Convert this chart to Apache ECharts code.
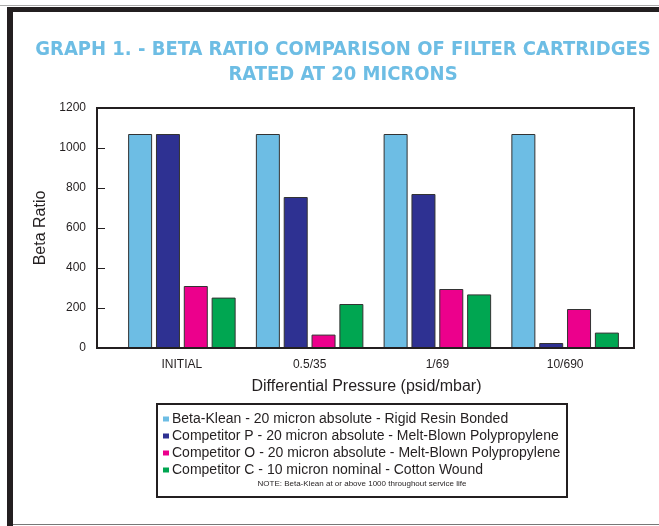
<!DOCTYPE html>
<html><head><meta charset="utf-8">
<script src="https://cdn.jsdelivr.net/npm/echarts@6/dist/echarts.min.js"></script>
<style>html,body{margin:0;padding:0;background:#fff}#c{width:659px;height:526px}</style>
</head><body><div id="c"></div>
<script>
const categories = ['INITIAL', '0.5/35', '1/69', '10/690'];
const seriesNames = [
  'Beta-Klean - 20 micron absolute - Rigid Resin Bonded',
  'Competitor P - 20 micron absolute - Melt-Blown Polypropylene',
  'Competitor O - 20 micron absolute - Melt-Blown Polypropylene',
  'Competitor C - 10 micron nominal - Cotton Wound'
];
const betaKlean = [1070, 1070, 1070, 1070];
const competitorP = [1070, 755, 770, 25];
const competitorO = [310, 67, 295, 195];
const competitorC = [252, 220, 268, 77];
const yTicks = [0, 200, 400, 600, 800, 1000, 1200];
const colors = ['#6DBDE4', '#2E3192', '#EC008C', '#00A651'];

const sans = 'Liberation Sans, Arial, Helvetica, sans-serif';
const narrow = 'Liberation Sans Narrow, DejaVu Sans Condensed, Arial Narrow, sans-serif';
const chart = echarts.init(document.getElementById('c'), null, {renderer: 'canvas'});
const values = [betaKlean, competitorP, competitorO, competitorC];

chart.setOption({
  animation: false,
  title: {
    text: 'GRAPH 1. - BETA RATIO COMPARISON OF FILTER CARTRIDGES\nRATED AT 20 MICRONS',
    left: 338, top: 32, textAlign: 'center',
    textStyle: {color: '#6DBDE4', fontSize: 20, fontWeight: 'bold', fontFamily: narrow, lineHeight: 25}
  },
  legend: {
    orient: 'vertical', left: 158, top: 407, itemWidth: 6, itemHeight: 5, itemGap: 3,
    icon: 'rect', selectedMode: false,
    itemStyle: {borderWidth: 0},
    textStyle: {fontSize: 14, color: '#231F20', fontFamily: sans, padding: [0, 0, 0, -2]},
    data: seriesNames
  },
  grid: {left: 118, right: 30, top: 108, bottom: 178, containLabel: false},
  xAxis: {
    type: 'category', data: categories,
    axisLine: {show: false}, axisTick: {show: false},
    axisLabel: {fontSize: 12, color: '#231F20', fontFamily: sans, margin: 11},
    name: 'Differential Pressure (psid/mbar)', nameLocation: 'middle', nameGap: 31,
    nameTextStyle: {fontSize: 16, color: '#231F20', fontFamily: sans, padding: [0, 14, 0, 0]}
  },
  yAxis: {
    type: 'value', min: 0, max: 1200, interval: 200, offset: 21,
    splitLine: {show: false},
    axisLine: {show: true, lineStyle: {color: '#231F20', width: 2}},
    axisTick: {show: true, inside: true, length: 8, lineStyle: {color: '#231F20', width: 1}},
    axisLabel: {fontSize: 12, color: '#231F20', fontFamily: sans, margin: 11,
      formatter: v => yTicks.includes(v) ? String(v) : ''},
    name: 'Beta Ratio', nameLocation: 'middle', nameGap: 46, nameRotate: 90,
    nameTextStyle: {fontSize: 16, color: '#231F20', fontFamily: sans}
  },
  series: values.map((d, i) => ({
    name: seriesNames[i], type: 'bar', data: d, barWidth: 24, barGap: '16%',
    itemStyle: {color: colors[i], borderColor: '#333', borderWidth: 1}
  })),
  graphic: [
    {type: 'rect', shape: {x: 0, y: 5, width: 659, height: 1}, style: {fill: '#aaa'}},
    {type: 'rect', shape: {x: 7, y: 7, width: 652, height: 5}, style: {fill: '#231F20'}},
    {type: 'rect', shape: {x: 7, y: 7, width: 6, height: 519}, style: {fill: '#231F20'}},
    {type: 'rect', shape: {x: 13, y: 524, width: 646, height: 1}, style: {fill: '#777'}},
    {type: 'rect', shape: {x: 97, y: 108, width: 537, height: 240}, style: {fill: 'none', stroke: '#231F20', lineWidth: 2}, z: 10},
    {type: 'rect', shape: {x: 157, y: 404, width: 410, height: 93}, style: {fill: 'none', stroke: '#231F20', lineWidth: 2}, z: 10},
    {type: 'text', x: 362, y: 480,
      style: {text: 'NOTE: Beta-Klean at or above 1000 throughout service life', fill: '#231F20', fontSize: 8, fontFamily: sans, textAlign: 'center'}}
  ]
});
</script></body></html>
